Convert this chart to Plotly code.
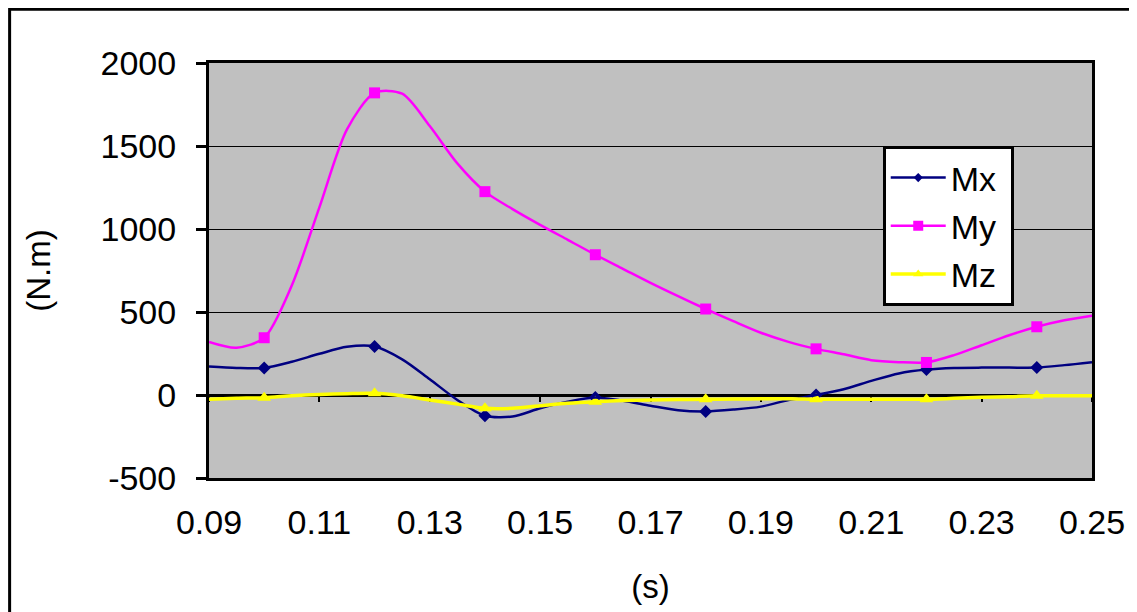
import plotly.graph_objects as go

# ---- data ----
t = [0.090, 0.095, 0.100, 0.105, 0.110, 0.115, 0.120, 0.125, 0.130, 0.135,
     0.140, 0.145, 0.150, 0.155, 0.160, 0.165, 0.170, 0.175, 0.180, 0.185,
     0.190, 0.195, 0.200, 0.205, 0.210, 0.215, 0.220, 0.225, 0.230, 0.235,
     0.240, 0.245, 0.250]

mx = [172, 163, 163, 200, 248, 290, 292, 215, 95, -30,
      -125, -130, -80, -40, -15, -35, -65, -92, -99, -88,
      -70, -30, 0, 35, 85, 130, 153, 163, 165, 165,
      165, 180, 198]

my = [320, 285, 345, 660, 1130, 1600, 1820, 1815, 1620, 1395,
      1225, 1120, 1025, 935, 845, 760, 675, 595, 518, 445,
      375, 320, 278, 245, 210, 198, 196, 240, 300, 360,
      411, 450, 478]

mz = [-25, -20, -16, -5, 3, 8, 10, -5, -30, -55,
      -80, -80, -65, -50, -40, -33, -30, -27, -26, -24,
      -23, -22, -25, -26, -26, -26, -26, -20, -14, -10,
      -5, -5, -5]

marker_idx = list(range(2, 31, 4))  # 0.10, 0.12, ..., 0.24
x_ticks = [0.09, 0.11, 0.13, 0.15, 0.17, 0.19, 0.21, 0.23, 0.25]
y_ticks = [-500, 0, 500, 1000, 1500, 2000]
y_ticktext = ["-500", "0", "500", "1000", "1500", "2000"]

series = [
    ("Mx", mx, "#000080", "diamond", 10, 7, 2.5),
    ("My", my, "#FF00FF", "square", 11, 10, 2.5),
    ("Mz", mz, "#FFFF00", "triangle-up", 12, 9, 3.5),
]

FONT = "Arial, Liberation Sans, sans-serif"
fig = go.Figure()

for name, vals, color, sym, msize, lsize, lw in series:
    # smooth line through every point (on the zero-line overlay axis x2)
    fig.add_trace(go.Scatter(
        x=t, y=vals, mode="lines", xaxis="x2", yaxis="y",
        line=dict(color=color, width=lw, shape="spline", smoothing=0.8),
        showlegend=False, legendgroup=name, hoverinfo="skip"))
    # markers every 0.02 s
    fig.add_trace(go.Scatter(
        x=[t[i] for i in marker_idx], y=[vals[i] for i in marker_idx],
        mode="markers", xaxis="x", yaxis="y",
        marker=dict(color=color, symbol=sym, size=msize, line=dict(width=0)),
        showlegend=False, legendgroup=name))
    # legend entry (trailing no-break space gives the box its right padding)
    fig.add_trace(go.Scatter(
        x=[None], y=[None], mode="lines+markers", name=name + "\u00a0",
        xaxis="x", yaxis="y", legendgroup=name,
        line=dict(color=color, width=lw),
        marker=dict(color=color, symbol=sym, size=lsize, line=dict(width=0))))

# the page body has an 8px margin, so the figure is laid out 8px smaller
fig.update_layout(
    width=1129, height=604,
    margin=dict(l=201, r=40, t=55, b=129),
    paper_bgcolor="white",
    plot_bgcolor="#C0C0C0",
    font=dict(family=FONT, size=34, color="black"),
    xaxis=dict(
        range=[0.09, 0.25], tickvals=x_ticks, tickformat=".2f",
        ticks="", showgrid=False, zeroline=False,
        showline=True, mirror=True, linecolor="black", linewidth=3,
        tickfont=dict(size=34), ticklabelstandoff=12,
        title=dict(text="(s)", font=dict(size=33), standoff=36),
    ),
    xaxis2=dict(
        range=[0.09, 0.25], tickvals=x_ticks, overlaying="x",
        anchor="free", position=0.2, side="bottom",
        showticklabels=False, ticks="outside", ticklen=5, tickwidth=2,
        tickcolor="black", showgrid=False, zeroline=False,
        showline=True, linecolor="black", linewidth=3, layer="below traces",
    ),
    yaxis=dict(
        range=[-500, 2000], tickvals=y_ticks, ticktext=y_ticktext,
        ticks="outside", ticklen=10, tickwidth=3, tickcolor="black",
        showgrid=True, gridcolor="black", gridwidth=1, zeroline=False,
        showline=True, mirror=True, linecolor="black", linewidth=3,
        tickfont=dict(size=34), ticklabelstandoff=13,
        title=dict(text="(N.m)", font=dict(size=33), standoff=41),
    ),
    legend=dict(
        x=0.763, y=0.80, xanchor="left", yanchor="top",
        bgcolor="white", bordercolor="black", borderwidth=3,
        font=dict(family=FONT, size=34), itemwidth=55,
        tracegroupgap=1,
    ),
    shapes=[dict(type="rect", xref="paper", yref="paper",
                 x0=-0.2258, x1=1.2, y0=-0.5, y1=1.1298,
                 line=dict(color="black", width=3), fillcolor="rgba(0,0,0,0)")],
    showlegend=True,
)

fig.write_html("out.html")
